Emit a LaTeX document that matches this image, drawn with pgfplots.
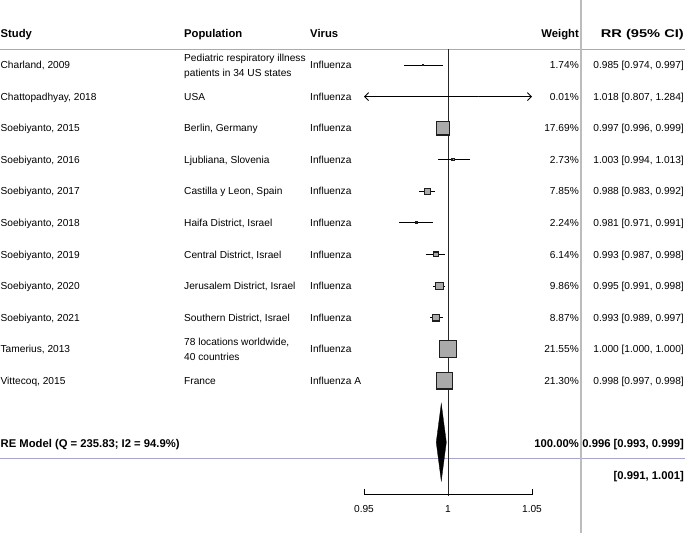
\documentclass[border=0pt]{standalone}
\usepackage{pgfplots}
\pgfplotsset{compat=1.18}
\usepackage{pgfplotstable}
\usepackage{fontspec}
\setmainfont{Liberation Sans}
\usetikzlibrary{arrows.meta}

\definecolor{rulecol}{RGB}{165,165,205}
\definecolor{sepgray}{RGB}{188,188,188}
\definecolor{boxgray}{RGB}{170,170,170}
\definecolor{boxedge}{RGB}{30,30,30}

% Study estimates: row, risk ratio, 95% CI, weight (%)
\pgfplotstableread{
y  rr    lo    hi    w
11 0.985 0.974 0.997 1.74
9  0.997 0.996 0.999 17.69
8  1.003 0.994 1.013 2.73
7  0.988 0.983 0.992 7.85
6  0.981 0.971 0.991 2.24
5  0.993 0.987 0.998 6.14
4  0.995 0.991 0.998 9.86
3  0.993 0.989 0.997 8.87
2  1.000 1.000 1.000 21.55
1  0.998 0.997 0.998 21.30
}\studies

% Chattopadhyay, 2018: CI runs past the plotted window (0.95 to 1.05)
\pgfplotstableread{
y  rr    lo    hi    w
10 1.018 0.807 1.284 0.01
}\wide

% square side proportional to the study weight
\pgfplotsset{
  weighted box/.style={
    scatter, only marks, mark=square*, point meta=explicit,
    mark options={fill=boxgray, draw=boxedge, line width=1.1bp},
    visualization depends on={\thisrow{w} \as \wt},
    scatter/@pre marker code/.code={%
      \pgfmathsetmacro\ms{0.39*\wt}%
      \scope[mark size=\ms pt]},
    scatter/@post marker code/.code={\endscope},
  },
}

\begin{document}
\begin{tikzpicture}[
  txt/.style={inner sep=0pt, font=\fontsize{10.2}{15.5}\selectfont},
  hd/.style={inner sep=0pt, font=\fontsize{11.3}{13}\selectfont\bfseries},
  row/.style={yshift=-3.7bp},
  two/.style={yshift=-11.45bp, align=left},
]
\useasboundingbox (0,0) rectangle (685bp,533bp);
\begin{axis}[
  at={(0,0)}, anchor=south west,
  width=685bp, height=533bp, scale only axis,
  xmin=0.733333, xmax=1.141071,
  ymin=-3.824, ymax=13.059,
  hide axis, clip=false,
]
% header and summary rules
\addplot[rulecol, line width=0.9bp] coordinates {(0.733333,11.5) (1.141071,11.5)};
\addplot[rulecol, line width=0.9bp] coordinates {(0.733333,-1.45) (1.141071,-1.45)};
% column separator
\addplot[sepgray, line width=1.5bp] coordinates {(1.079167,-3.824) (1.079167,13.059)};
% line of no effect
\addplot[black!85, line width=0.9bp] coordinates {(1,11.5) (1,-2.64)};

% confidence intervals
\addplot[draw=none, mark=none, forget plot,
  error bars/.cd, x dir=both, x explicit, error mark=none,
  error bar style={draw=black, line width=0.9bp}]
  table[x=rr, y=y, x error plus expr=\thisrow{hi}-\thisrow{rr},
        x error minus expr=\thisrow{rr}-\thisrow{lo}] {\studies};
\addplot[black, line width=0.9bp,
  {Straight Barb[length=4bp,width=8bp]}-{Straight Barb[length=4bp,width=8bp]}]
  coordinates {(0.95,10) (1.05,10)};

% weighted point estimates
\addplot[weighted box] table[x=rr, y=y, meta=w] {\studies};
\addplot[weighted box] table[x=rr, y=y, meta=w] {\wide};

% pooled random-effects estimate
\addplot[fill=black, draw=black, line width=0.3bp]
  coordinates {(0.993,-0.95) (0.996,0.28) (0.999,-0.95) (0.996,-2.18)} -- cycle;

% scale
\addplot[black, line width=0.9bp]
  coordinates {(0.95,-2.43) (0.95,-2.59) (1.05,-2.59) (1.05,-2.43)};
\node[txt, anchor=base, row] at (0.95,-3.064) {0.95};
\node[txt, anchor=base, row] at (1,-3.064) {1};
\node[txt, anchor=base, row] at (1.05,-3.064) {1.05};

% header
\node[hd, anchor=base west, row] at (0.7336,11.98) {Study};
\node[hd, anchor=base west, row] at (0.842857,11.98) {Population};
\node[hd, anchor=base west, row] at (0.917857,11.98) {Virus};
\node[hd, anchor=base east, row] at (1.077976,11.98) {Weight};
\node[hd, anchor=base east, row] at (1.140476,11.98) {\scalebox{1.3}[1]{RR (95\% CI)}};

% study column
\node[txt, anchor=base west, row] at (0.7336,11) {Charland, 2009};
\node[txt, anchor=base west, row] at (0.7336,10) {Chattopadhyay, 2018};
\node[txt, anchor=base west, row] at (0.7336,9) {Soebiyanto, 2015};
\node[txt, anchor=base west, row] at (0.7336,8) {Soebiyanto, 2016};
\node[txt, anchor=base west, row] at (0.7336,7) {Soebiyanto, 2017};
\node[txt, anchor=base west, row] at (0.7336,6) {Soebiyanto, 2018};
\node[txt, anchor=base west, row] at (0.7336,5) {Soebiyanto, 2019};
\node[txt, anchor=base west, row] at (0.7336,4) {Soebiyanto, 2020};
\node[txt, anchor=base west, row] at (0.7336,3) {Soebiyanto, 2021};
\node[txt, anchor=base west, row] at (0.7336,2) {Tamerius, 2013};
\node[txt, anchor=base west, row] at (0.7336,1) {Vittecoq, 2015};

% population column
\node[txt, anchor=base west, two] at (0.842857,11) {Pediatric respiratory illness\\patients in 34 US states};
\node[txt, anchor=base west, row] at (0.842857,10) {USA};
\node[txt, anchor=base west, row] at (0.842857,9) {Berlin, Germany};
\node[txt, anchor=base west, row] at (0.842857,8) {Ljubliana, Slovenia};
\node[txt, anchor=base west, row] at (0.842857,7) {Castilla y Leon, Spain};
\node[txt, anchor=base west, row] at (0.842857,6) {Haifa District, Israel};
\node[txt, anchor=base west, row] at (0.842857,5) {Central District, Israel};
\node[txt, anchor=base west, row] at (0.842857,4) {Jerusalem District, Israel};
\node[txt, anchor=base west, row] at (0.842857,3) {Southern District, Israel};
\node[txt, anchor=base west, two] at (0.842857,2) {78 locations worldwide,\\40 countries};
\node[txt, anchor=base west, row] at (0.842857,1) {France};

% virus column
\foreach \k in {2,...,11}{
  \edef\tmp{\noexpand\node[txt, anchor=base west, row] at (0.917857,\k) {Influenza};}\tmp
}
\node[txt, anchor=base west, row] at (0.917857,1) {Influenza A};

% weight column
\node[txt, anchor=base east, row] at (1.077976,11) {1.74\%};
\node[txt, anchor=base east, row] at (1.077976,10) {0.01\%};
\node[txt, anchor=base east, row] at (1.077976,9) {17.69\%};
\node[txt, anchor=base east, row] at (1.077976,8) {2.73\%};
\node[txt, anchor=base east, row] at (1.077976,7) {7.85\%};
\node[txt, anchor=base east, row] at (1.077976,6) {2.24\%};
\node[txt, anchor=base east, row] at (1.077976,5) {6.14\%};
\node[txt, anchor=base east, row] at (1.077976,4) {9.86\%};
\node[txt, anchor=base east, row] at (1.077976,3) {8.87\%};
\node[txt, anchor=base east, row] at (1.077976,2) {21.55\%};
\node[txt, anchor=base east, row] at (1.077976,1) {21.30\%};

% RR column
\node[txt, anchor=base east, row] at (1.140476,11) {0.985 [0.974, 0.997]};
\node[txt, anchor=base east, row] at (1.140476,10) {1.018 [0.807, 1.284]};
\node[txt, anchor=base east, row] at (1.140476,9) {0.997 [0.996, 0.999]};
\node[txt, anchor=base east, row] at (1.140476,8) {1.003 [0.994, 1.013]};
\node[txt, anchor=base east, row] at (1.140476,7) {0.988 [0.983, 0.992]};
\node[txt, anchor=base east, row] at (1.140476,6) {0.981 [0.971, 0.991]};
\node[txt, anchor=base east, row] at (1.140476,5) {0.993 [0.987, 0.998]};
\node[txt, anchor=base east, row] at (1.140476,4) {0.995 [0.991, 0.998]};
\node[txt, anchor=base east, row] at (1.140476,3) {0.993 [0.989, 0.997]};
\node[txt, anchor=base east, row] at (1.140476,2) {1.000 [1.000, 1.000]};
\node[txt, anchor=base east, row] at (1.140476,1) {0.998 [0.997, 0.998]};

% summary row
\node[hd, anchor=base west, row] at (0.7336,-0.983) {RE Model (Q = 235.83; I2 = 94.9\%)};
\node[hd, anchor=base east, row] at (1.077976,-0.983) {100.00\%};
\node[hd, anchor=base east, row] at (1.140476,-0.983) {0.996 [0.993, 0.999]};
\node[hd, anchor=base east, row] at (1.140476,-2.02) {[0.991, 1.001]};
\end{axis}
\end{tikzpicture}
\end{document}
